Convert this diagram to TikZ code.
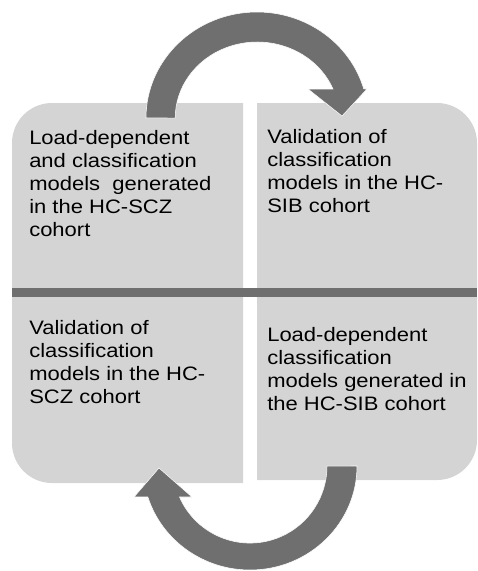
\documentclass[tikz,border=0pt]{standalone}
\usepackage{fontspec}
\usepackage{tikz}
\usetikzlibrary{positioning,calc}
\newfontfamily\cardfont[FakeStretch=1.13]{Liberation Sans}
\definecolor{cardgray}{HTML}{D4D4D4}
\definecolor{arrowgray}{HTML}{6F6F6F}

\begin{document}
\begin{tikzpicture}[x=0.75pt, y=-0.75pt,
    card/.style={fill=cardgray},
    loop arrow/.style={fill=arrowgray, draw=white, line width=0.4pt},
    cardtext/.style={anchor=north west, inner sep=0pt, align=left,
      font=\cardfont\fontsize{14.6}{17.25}\selectfont}]
    \useasboundingbox (0,0) rectangle (478,571);
    % four quarters
    \fill[card] (12,289) -- (12,143) arc[start angle=180, end angle=270, radius=40] -- (243,103) -- (243,289) -- cycle;
    \fill[card] (257,289) -- (257,103) -- (437,103) arc[start angle=270, end angle=360, radius=40] -- (477,289) -- cycle;
    \fill[card] (12,297) -- (12,443) arc[start angle=180, end angle=90, radius=40] -- (243,483) -- (243,297) -- cycle;
    \fill[card] (257,297) -- (257,480) -- (437,480) arc[start angle=90, end angle=0, radius=40] -- (477,297) -- cycle;
    \fill[arrowgray] (12,288) rectangle (477,297);
    % texts
    \node[cardtext] (scztrain) at (29,130) {Load-dependent\\and classification\\models~~generated\\in the HC-SCZ\\cohort};
    \node[cardtext] (sibtest) at (267,129) {Validation of\\classification\\models in the HC-\\SIB cohort};
    \node[cardtext] (scztest) at (29,320) {Validation of\\classification\\models in the HC-\\SCZ cohort};
    \node[cardtext] (sibtrain) at (267,327) {Load-dependent\\classification\\models generated in\\the HC-SIB cohort};
    % curved arrows
    \draw[loop arrow] (146,118) arc[start angle=180, end angle=344.1, x radius=111, y radius=106]
      -- (367,89) -- (342,116) -- (308,89) -- (333,89)
      arc[start angle=337.55, end angle=180, x radius=82, y radius=76] -- cycle;
    \draw[loop arrow] (357,466) arc[start angle=0, end angle=162.7, x radius=107, y radius=104]
      -- (134,497) -- (159,468) -- (192,497) -- (179.5,497)
      arc[start angle=156.3, end angle=0, x radius=77, y radius=77] -- cycle;
\end{tikzpicture}
\end{document}
